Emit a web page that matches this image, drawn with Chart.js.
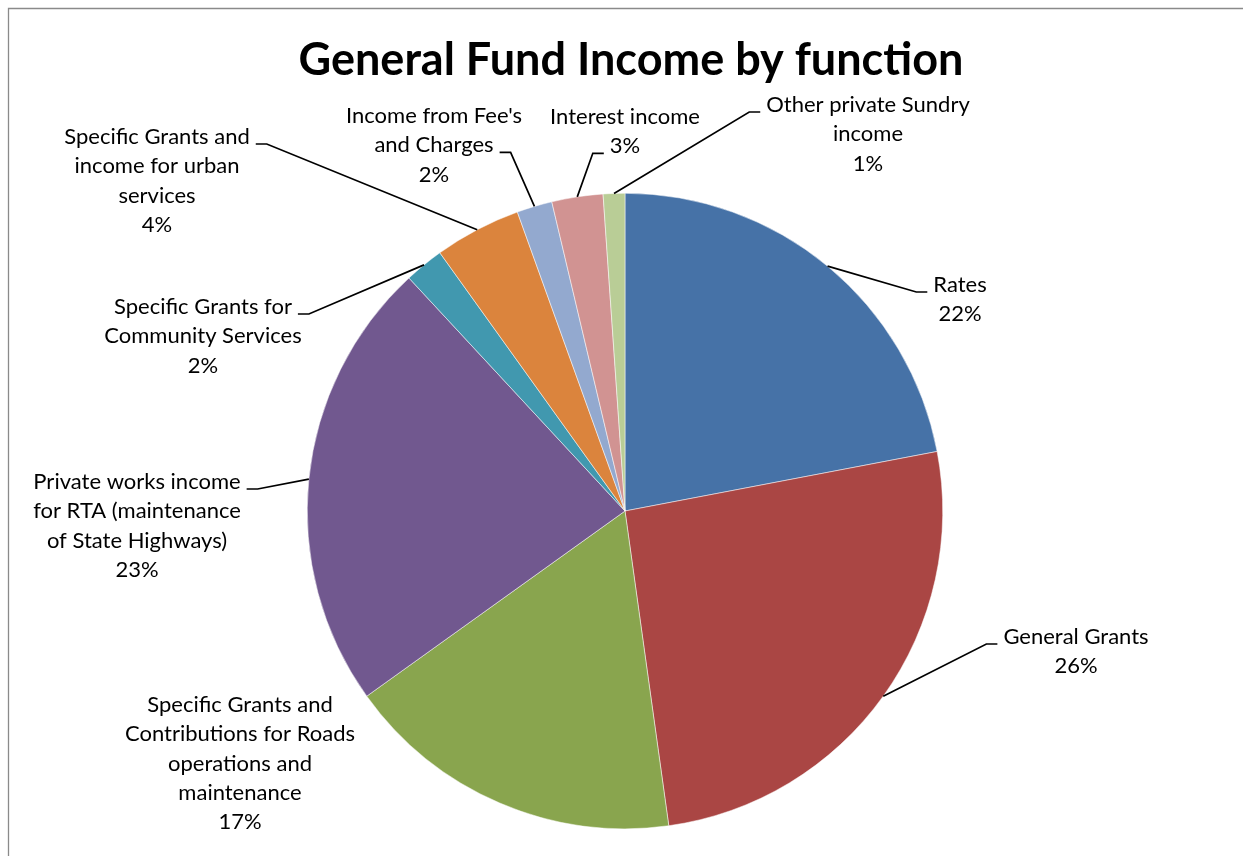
<!DOCTYPE html>
<html>
<head>
<meta charset="utf-8">
<script src="https://cdn.jsdelivr.net/npm/chart.js@4.4.1/dist/chart.umd.min.js"></script>
<style>
  html, body { margin: 0; padding: 0; background: #fff; }
  #wrap { position: relative; width: 1243px; height: 856px; }
</style>
</head>
<body>
<div id="wrap"><canvas id="c" width="1243" height="856"></canvas></div>
<script>
const chartTitle = 'General Fund Income by function';
const categories = [
  ['Rates'],
  ['General Grants'],
  ['Specific Grants and', 'Contributions for Roads', 'operations and', 'maintenance'],
  ['Private works income', 'for RTA (maintenance', 'of State Highways)'],
  ['Specific Grants for', 'Community Services'],
  ['Specific Grants and', 'income for urban', 'services'],
  ["Income from Fee's", 'and Charges'],
  ['Interest income'],
  ['Other private Sundry', 'income']
];
const shares = [22.0, 25.8, 17.3, 23.0, 2.0, 4.4, 1.8, 2.6, 1.1];
const colors = ['#4672A7', '#AA4644', '#89A54E', '#71588F', '#4198AF', '#DB843D', '#93A9CF', '#D19392', '#B9CD96'];

// label layout: offset of text centre (first line) from pie centre, side where leader attaches, line index
const labelLayout = [
  { dx: 335, dy: -226, side: 'left', line: 0 },
  { dx: 451, dy: 126, side: 'left', line: 0 },
  { dx: -385, dy: 194, side: null, line: 0 },
  { dx: -488, dy: -29, side: 'right', line: 0 },
  { dx: -422, dy: -204, side: 'right', line: 0 },
  { dx: -468, dy: -374, side: 'right', line: 0 },
  { dx: -191, dy: -395, side: 'right', line: 1 },
  { dx: 0, dy: -394, side: 'left', line: 1 },
  { dx: 243, dy: -406, side: 'left', line: 0 }
];

const FONT = 'Lato, "Open Sans", sans-serif';
const LABEL_SIZE = 22;
const LINE_H = 29.3;

const decorPlugin = {
  id: 'decor',
  beforeDraw(chart) {
    const ctx = chart.ctx;
    ctx.save();
    ctx.fillStyle = '#fff';
    ctx.fillRect(0, 0, chart.width, chart.height);
    ctx.strokeStyle = '#8a8a8a';
    ctx.lineWidth = 1.3;
    ctx.beginPath();
    ctx.moveTo(8.5, chart.height + 2);
    ctx.lineTo(8.5, 8.5);
    ctx.lineTo(chart.width + 2, 8.5);
    ctx.stroke();
    ctx.fillStyle = '#000';
    ctx.font = 'bold 45px ' + FONT;
    ctx.textAlign = 'center';
    ctx.textBaseline = 'middle';
    ctx.fillText(chartTitle, 631, 60);
    ctx.restore();
  },
  afterDatasetsDraw(chart) {
    const ctx = chart.ctx;
    const meta = chart.getDatasetMeta(0);
    const total = shares.reduce((a, b) => a + b, 0);
    ctx.save();
    ctx.font = LABEL_SIZE + 'px ' + FONT;
    ctx.textAlign = 'center';
    ctx.textBaseline = 'middle';
    meta.data.forEach((arc, i) => {
      const p = arc.getProps(['x', 'y', 'startAngle', 'endAngle', 'outerRadius'], true);
      const cx = p.x, cy = p.y;
      const mid = (p.startAngle + p.endAngle) / 2;
      const lay = labelLayout[i];
      const lines = categories[i].concat([Math.round(shares[i] / total * 100) + '%']);
      const tx = cx + lay.dx, ty = cy + lay.dy;
      ctx.fillStyle = '#000';
      lines.forEach((ln, k) => ctx.fillText(ln, tx, ty + k * LINE_H));
      if (lay.side) {
        const w = ctx.measureText(lines[lay.line]).width;
        const ay = ty + lay.line * LINE_H + 7;
        let endX, elbowX;
        if (lay.side === 'left') { endX = tx - w / 2 - 6; elbowX = endX - 11; }
        else { endX = tx + w / 2 + 6; elbowX = endX + 11; }
        const px = cx + Math.cos(mid) * p.outerRadius;
        const py = cy + Math.sin(mid) * p.outerRadius;
        ctx.strokeStyle = '#000';
        ctx.lineWidth = 1.7;
        ctx.beginPath();
        ctx.moveTo(px, py);
        ctx.lineTo(elbowX, ay);
        ctx.lineTo(endX, ay);
        ctx.stroke();
      }
    });
    ctx.restore();
  }
};

new Chart(document.getElementById('c'), {
  type: 'pie',
  data: {
    labels: categories.map(c => c.join(' ')),
    datasets: [{
      data: shares,
      backgroundColor: colors,
      borderColor: '#ffffff',
      borderWidth: 0.5
    }]
  },
  options: {
    responsive: false,
    animation: false,
    rotation: 0,
    layout: { padding: { left: 307, right: 300, top: 193, bottom: 27 } },
    plugins: {
      legend: { display: false },
      title: { display: false },
      tooltip: { enabled: false }
    }
  },
  plugins: [decorPlugin]
});
</script>
</body>
</html>
